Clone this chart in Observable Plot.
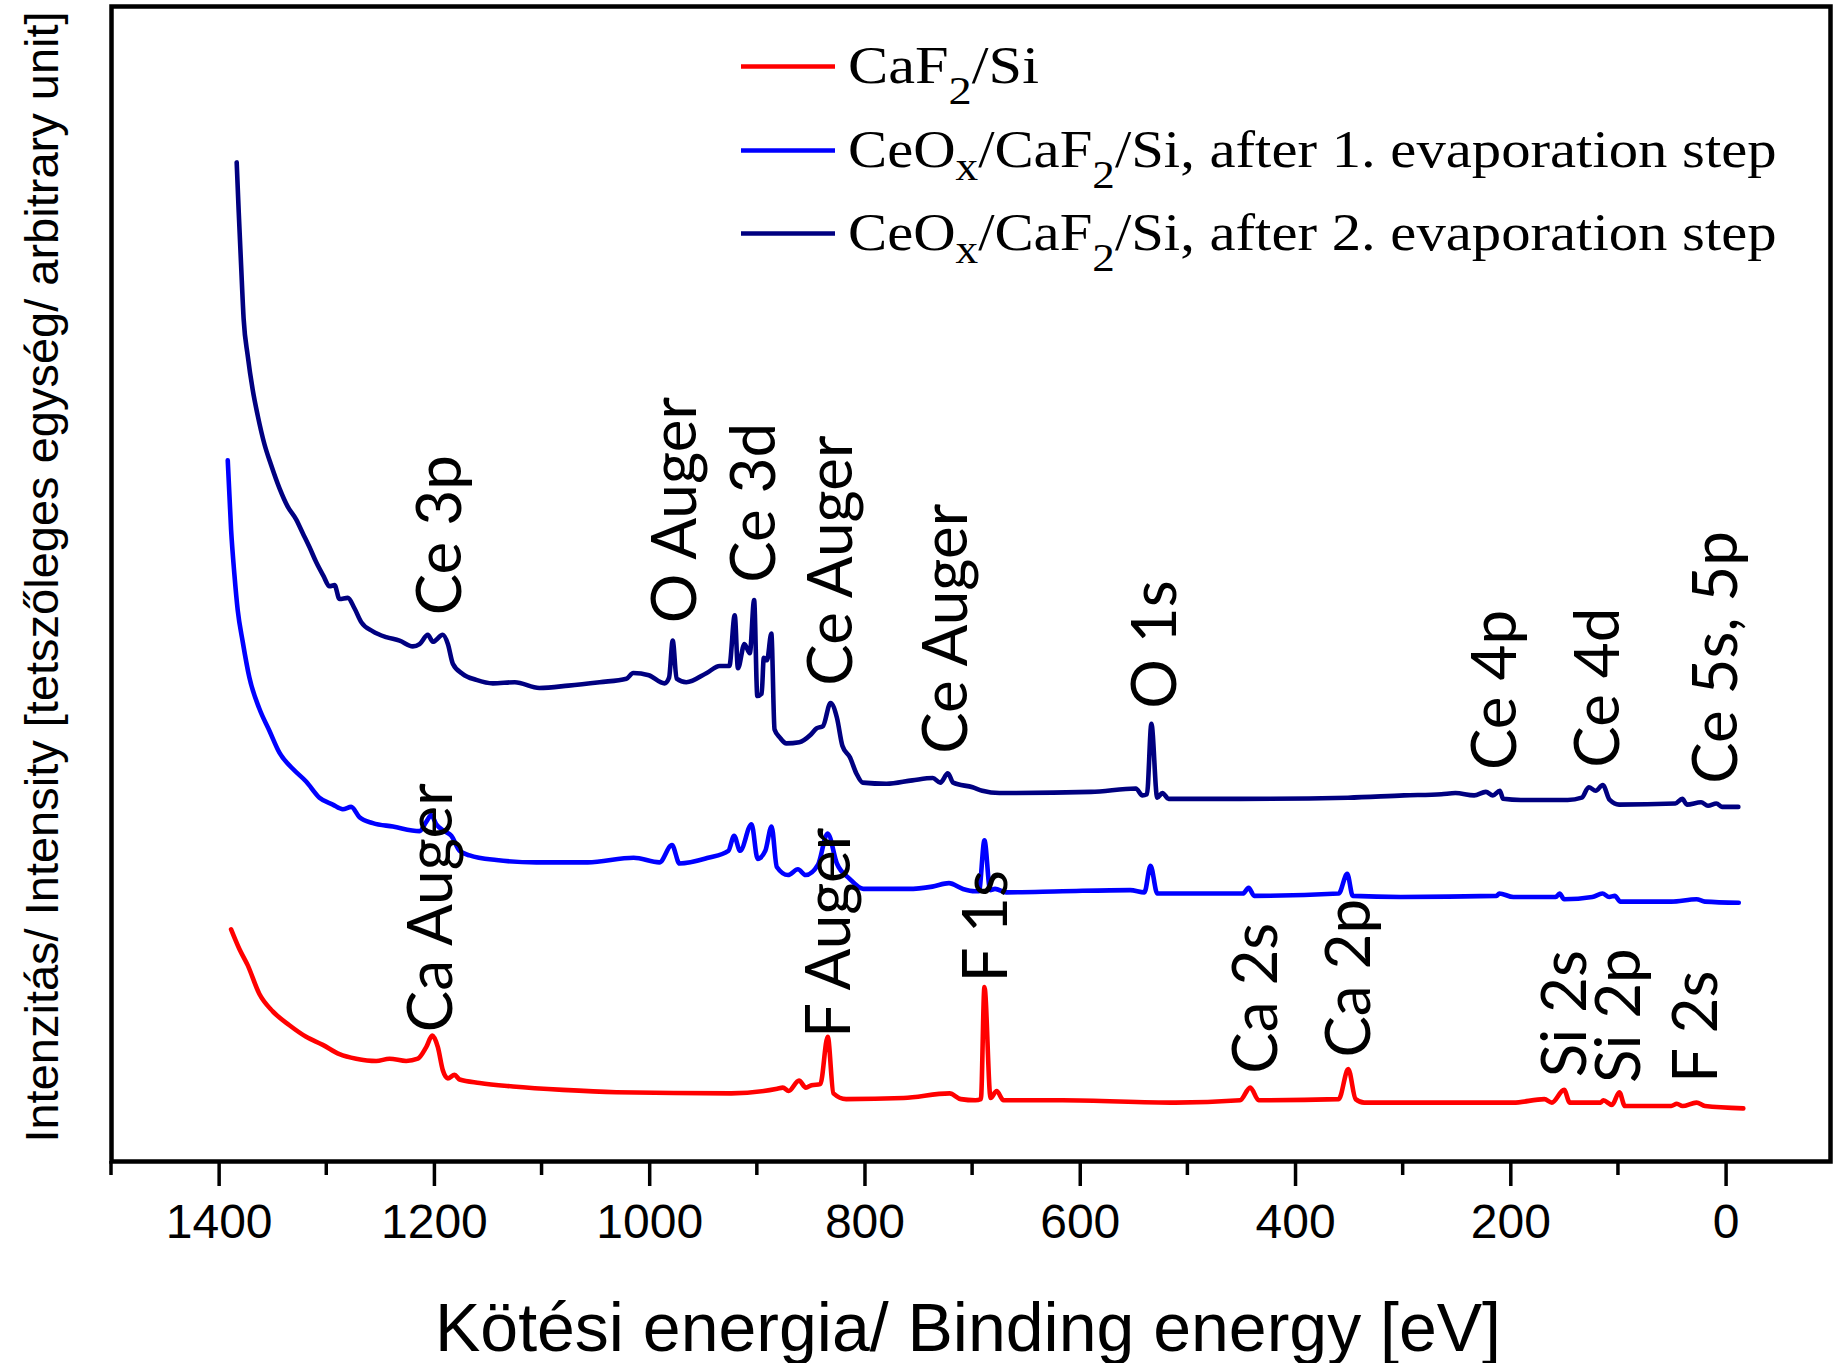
<!DOCTYPE html>
<html>
<head>
<meta charset="utf-8">
<script src="https://cdn.jsdelivr.net/npm/d3@7"></script>
<script src="https://cdn.jsdelivr.net/npm/@observablehq/plot@0.6"></script>
<style>
  html, body { margin: 0; padding: 0; background: #fff; }
  svg { display: block; }
</style>
</head>
<body>
<div id="chart"></div>
<script>
// XPS survey spectra: binding energy (eV) vs. intensity (arbitrary units), [energy, intensity]
const caf2Si = [
  [1388.9, 20.1], [1381.2, 18.4], [1373.5, 17.0], [1362.6, 14.5], [1350.2, 13.0], [1334.7, 11.8],
  [1319.2, 10.8], [1303.7, 10.1], [1288.2, 9.3], [1272.7, 8.9], [1254.1, 8.7], [1241.7, 8.9],
  [1226.2, 8.7], [1215.4, 8.9], [1207.6, 9.9], [1202.0, 10.9], [1196.8, 9.9], [1192.2, 7.9],
  [1187.5, 7.2], [1181.3, 7.5], [1176.6, 7.1], [1158.0, 6.8], [1127.1, 6.5], [1080.6, 6.2],
  [1031.0, 6.0], [924.2, 5.9], [881.5, 6.3], [876.3, 6.4], [870.9, 6.1], [861.3, 7.0],
  [854.9, 6.4], [849.6, 6.6], [841.5, 6.7], [834.6, 10.8], [829.3, 5.9], [817.5, 5.4],
  [764.1, 5.5], [721.4, 5.9], [710.9, 5.4], [697.5, 5.3], [692.3, 5.4], [689.0, 15.1],
  [683.3, 5.5], [677.7, 6.1], [671.3, 5.3], [616.4, 5.3], [511.7, 5.1], [451.5, 5.3],
  [442.1, 6.4], [434.2, 5.3], [359.9, 5.4], [351.0, 8.0], [344.2, 5.4], [336.3, 5.1],
  [197.7, 5.1], [168.8, 5.4], [161.9, 5.1], [150.5, 6.2], [145.2, 5.1], [116.5, 5.1],
  [114.0, 5.3], [106.0, 4.9], [99.2, 6.0], [94.0, 4.8], [51.0, 4.8], [45.7, 5.0],
  [40.5, 4.8], [27.5, 5.1], [19.6, 4.8], [-16.0, 4.6]
];

const ceoxStep1 = [
  [1392.0, 60.7], [1388.9, 54.7], [1385.8, 50.8], [1382.7, 47.7], [1378.1, 45.0], [1371.9, 41.9],
  [1362.6, 39.2], [1353.3, 37.3], [1344.0, 35.4], [1331.6, 34.0], [1319.2, 32.9], [1306.8, 31.5],
  [1294.4, 30.9], [1285.1, 30.5], [1277.3, 30.7], [1269.6, 29.8], [1257.2, 29.3], [1238.6, 29.0],
  [1213.8, 28.6], [1207.6, 29.4], [1202.9, 30.0], [1198.3, 29.2], [1190.6, 28.6], [1184.3, 28.2],
  [1176.6, 26.9], [1167.3, 26.5], [1142.5, 26.1], [1105.3, 25.9], [1057.6, 25.9], [1014.9, 26.3],
  [991.0, 25.9], [979.3, 27.4], [972.3, 25.8], [945.6, 26.3], [926.9, 26.9], [921.6, 28.2],
  [916.0, 26.9], [905.4, 29.2], [899.7, 26.2], [892.6, 26.9], [886.8, 29.0], [881.9, 25.5],
  [871.5, 24.8], [862.3, 25.3], [855.1, 24.8], [843.6, 25.7], [834.7, 28.4], [826.1, 25.8],
  [814.5, 24.5], [801.5, 23.6], [760.1, 23.6], [737.4, 23.8], [722.0, 24.1], [709.0, 23.6],
  [697.8, 23.4], [694.1, 23.4], [689.0, 27.8], [683.7, 23.5], [679.2, 23.6], [668.7, 23.3],
  [616.4, 23.4], [553.6, 23.5], [540.4, 23.3], [534.7, 25.6], [528.4, 23.2], [485.5, 23.2],
  [448.9, 23.2], [443.6, 23.7], [438.4, 23.0], [359.9, 23.2], [352.0, 24.9], [346.8, 23.0],
  [302.3, 22.9], [213.3, 23.0], [210.7, 23.2], [197.7, 22.9], [158.3, 22.9], [154.7, 23.2],
  [150.5, 22.7], [124.3, 22.9], [114.9, 23.2], [108.6, 22.9], [103.4, 23.0], [98.2, 22.5],
  [51.0, 22.5], [27.5, 22.7], [19.6, 22.5], [-11.8, 22.4]
];

const ceoxStep2 = [
  [1383.7, 86.5], [1381.8, 82.2], [1379.6, 77.6], [1377.2, 72.9], [1373.5, 69.8], [1368.8, 66.8],
  [1364.2, 64.6], [1357.9, 62.1], [1351.7, 60.3], [1344.0, 58.3], [1336.3, 56.7], [1328.5, 55.6],
  [1322.3, 54.4], [1316.1, 53.2], [1309.9, 51.9], [1303.1, 50.7], [1297.5, 49.8], [1292.8, 49.9],
  [1288.2, 48.7], [1280.5, 48.8], [1274.3, 47.9], [1268.0, 46.7], [1257.2, 45.9], [1244.8, 45.4],
  [1232.4, 45.1], [1220.1, 44.6], [1213.8, 44.8], [1206.1, 45.6], [1201.5, 45.0], [1192.2, 45.6],
  [1187.5, 44.8], [1182.9, 43.1], [1173.6, 42.2], [1161.1, 41.7], [1145.7, 41.4], [1125.3, 41.5],
  [1102.5, 41.0], [1075.5, 41.2], [1046.5, 41.5], [1021.6, 41.8], [1015.3, 42.3], [1000.8, 42.1],
  [986.3, 41.4], [982.0, 41.9], [978.6, 45.1], [975.0, 41.8], [966.0, 41.5], [947.0, 42.3],
  [935.0, 42.9], [926.0, 42.9], [921.0, 47.3], [918.0, 42.7], [912.0, 44.8], [907.0, 44.0],
  [903.0, 48.6], [900.0, 40.3], [896.0, 40.5], [894.0, 43.6], [891.0, 43.4], [887.0, 45.7],
  [884.0, 37.4], [879.0, 36.7], [873.0, 36.2], [861.0, 36.3], [851.0, 36.9], [845.0, 37.5],
  [839.0, 37.7], [832.0, 39.7], [826.0, 38.4], [821.0, 36.0], [814.0, 35.0], [808.0, 33.6],
  [802.0, 32.8], [780.0, 32.7], [756.0, 33.0], [737.0, 33.2], [730.0, 32.8], [723.0, 33.6],
  [718.0, 32.8], [700.0, 32.4], [691.0, 32.1], [675.0, 31.9], [590.0, 32.0], [548.4, 32.3],
  [542.2, 31.7], [538.0, 31.8], [533.9, 37.9], [528.5, 31.5], [523.7, 31.9], [517.9, 31.4],
  [451.3, 31.4], [351.3, 31.5], [299.3, 31.7], [264.5, 31.8], [251.5, 31.9], [234.1, 31.7],
  [223.2, 32.0], [216.7, 31.7], [210.2, 32.1], [207.1, 31.4], [190.6, 31.3], [147.2, 31.3],
  [134.1, 31.5], [127.6, 32.4], [121.1, 32.1], [114.6, 32.6], [108.1, 31.3], [99.4, 30.9],
  [47.2, 31.0], [40.7, 31.4], [36.4, 30.9], [23.3, 31.1], [16.8, 30.8], [9.0, 31.0],
  [3.8, 30.7], [-11.4, 30.7]
];

const seriesNames = [
  "CaF2/Si",
  "CeOx/CaF2/Si, after 1. evaporation step",
  "CeOx/CaF2/Si, after 2. evaporation step"
];
const seriesColors = ["#ff0000", "#0000ff", "#000080"];

const majorTicks = [1400, 1200, 1000, 800, 600, 400, 200, 0];
const minorTicks = [1500, 1300, 1100, 900, 700, 500, 300, 100];

// Peak assignments: energy of the label's baseline, and the intensity span the label runs over
const peakLabels = [
  {text: "Ce 3p", energy: 1175.7, from: 47.3, to: 60.0},
  {text: "O Auger", energy: 957.2, from: 46.6, to: 64.8},
  {text: "Ce 3d", energy: 883.8, from: 50.1, to: 63.3},
  {text: "Ce Auger", energy: 812.2, from: 41.2, to: 61.7},
  {text: "Ce Auger", energy: 705.3, from: 35.3, to: 55.2},
  {text: "O 1s", energy: 511.0, from: 39.2, to: 49.1},
  {text: "Ce 4p", energy: 194.9, from: 33.9, to: 46.3},
  {text: "Ce 4d", energy: 99.1, from: 34.1, to: 46.7},
  {text: "Ce 5s, 5p", energy: -9.7, from: 32.7, to: 53.0},
  {text: "Ca Auger", energy: 1184.1, from: 11.2, to: 28.7},
  {text: "F Auger", energy: 814.0, from: 10.7, to: 24.7},
  {text: "F 1s", energy: 668.1, from: 15.5, to: 22.9},
  {text: "Ca 2s", energy: 417.1, from: 7.6, to: 19.4},
  {text: "Ca 2p", energy: 330.6, from: 9.0, to: 21.6},
  {text: "Si 2s", energy: 129.8, from: 7.3, to: 17.4},
  {text: "Si 2p", energy: 79.6, from: 6.8, to: 17.1},
  {text: "F 2s", energy: 8.9, from: 6.8, to: 15.2}
];

const xTitle = "Kötési energia/ Binding energy [eV]";
const yTitle = "Intenzitás/ Intensity [tetszőleges egység/ arbitrary unit]";

// Legend rows split into plain runs and subscripts ([text, drop in px])
const legendParts = [
  ["CaF", ["2", 21], "/Si"],
  ["CeO", ["x", 13], "/CaF", ["2", 21], "/Si, after 1. evaporation step"],
  ["CeO", ["x", 13], "/CaF", ["2", 21], "/Si, after 2. evaporation step"]
];

const rows = [caf2Si, ceoxStep1, ceoxStep2].flatMap((pts, k) =>
  pts.map(([energy, intensity]) => ({energy, intensity, series: seriesNames[k]}))
);

const sans = "'Liberation Sans', Arial, Helvetica, sans-serif";

const chart = Plot.plot({
  width: 1833,
  height: 1363,
  marginLeft: 111,
  marginRight: 3,
  marginTop: 6,
  marginBottom: 202,
  style: {background: "#fff", color: "#000", fontFamily: sans, fontSize: "48px"},
  x: {
    domain: [1500, -97], ticks: majorTicks, tickFormat: d => String(d),
    tickSize: 25, tickPadding: 17, label: null
  },
  y: {domain: [0, 100], axis: null},
  color: {domain: seriesNames, range: seriesColors},
  marks: [
    Plot.line(rows, {
      x: "energy", y: "intensity", stroke: "series", curve: "monotone-x",
      strokeWidth: 4.6, strokeLinejoin: "round", strokeLinecap: "round"
    }),
    Plot.text(peakLabels, {
      x: "energy", y: "from", text: "text", rotate: -90,
      textAnchor: "start", lineAnchor: "bottom",
      fontSize: 62, fontFamily: "Lato, 'Open Sans', sans-serif", fill: "#000",
      ariaLabel: "peak labels"
    }),
    Plot.frame({stroke: "#000", strokeWidth: 4.5}),
    Plot.text([xTitle], {
      frameAnchor: "bottom", textAnchor: "middle", dy: 189, dx: -3,
      lineAnchor: "bottom", fontSize: 68
    }),
    Plot.text([yTitle], {
      frameAnchor: "left", textAnchor: "middle", rotate: -90, dx: -54, dy: -7,
      lineAnchor: "bottom", fontSize: 47
    })
  ]
});

document.getElementById("chart").append(chart);
const svg = d3.select(chart);

// Heavier tick strokes on the energy axis
svg.selectAll('g[aria-label^="x-axis"] line, g[aria-label^="x-axis"] path')
  .attr("stroke-width", 3.5);

// Unlabelled minor ticks halfway between the labelled ones
const xScale = chart.scale("x");
const yScale = chart.scale("y");
const axisY = yScale.apply(0);
svg.append("g").attr("stroke", "#000").attr("stroke-width", 3.5)
  .selectAll("line").data(minorTicks).join("line")
  .attr("x1", d => xScale.apply(d)).attr("x2", d => xScale.apply(d))
  .attr("y1", axisY).attr("y2", axisY + 14);

// Stretch each peak label along its own direction so it spans its intensity range
svg.selectAll('g[aria-label="peak labels"] text').each(function (_, k) {
  const L = peakLabels[k];
  if (!L) return;
  const len = yScale.apply(L.from) - yScale.apply(L.to);
  this.setAttribute("textLength", len.toFixed(1));
  this.setAttribute("lengthAdjust", "spacingAndGlyphs");
});

// Legend inside the frame, top right
const legend = svg.append("g")
  .attr("font-family", "'Liberation Serif', 'Times New Roman', serif")
  .attr("font-size", 52)
  .attr("text-anchor", "start")
  .attr("fill", "#000");

const legendRowBaseline = [83, 167, 250];
const legendRowWidth = [191, 929, 929];

legendParts.forEach((parts, k) => {
  const swatchY = legendRowBaseline[k] - 16.5;
  legend.append("line")
    .attr("x1", 741).attr("x2", 835)
    .attr("y1", swatchY).attr("y2", swatchY)
    .attr("stroke", seriesColors[k]).attr("stroke-width", 4.7);
  const g = legend.append("g");
  const t = g.append("text").attr("text-anchor", "start");
  let shift = 0;
  for (const p of parts) {
    const [s, drop] = Array.isArray(p) ? p : [p, 0];
    const span = t.append("tspan").text(s).attr("dy", drop - shift);
    if (drop) span.attr("font-size", 40);
    shift = drop;
  }
  const w = t.node().getComputedTextLength();
  const sx = w > 0 ? legendRowWidth[k] / w : 1;
  g.attr("transform", `translate(848,${legendRowBaseline[k]}) scale(${sx.toFixed(4)},1)`);
});
</script>
</body>
</html>
